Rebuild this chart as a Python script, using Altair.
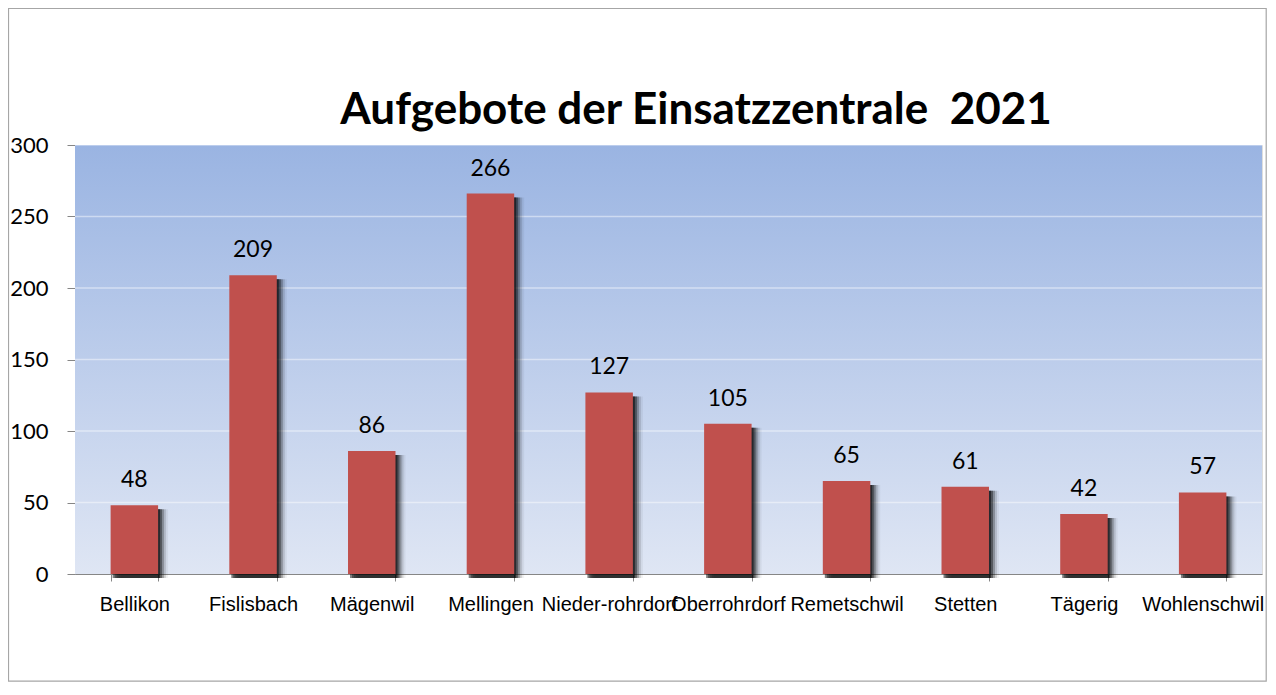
import altair as alt
import pandas as pd

categories = ["Bellikon", "Fislisbach", "Mägenwil", "Mellingen", "Nieder-rohrdorf",
              "Oberrohrdorf", "Remetschwil", "Stetten", "Tägerig", "Wohlenschwil"]
values = [48, 209, 86, 266, 127, 105, 65, 61, 42, 57]
y_ticks = [0, 50, 100, 150, 200, 250, 300]
title_text = "Aufgebote der Einsatzzentrale\u00a0 2021"

W, H = 1187, 429
PAD_L, PAD_T, PAD_R, PAD_B = 67, 137, 5, 108
df = pd.DataFrame({"Gemeinde": categories, "Aufgebote": values})
grid_df = pd.DataFrame({"v": y_ticks[1:]})
one = pd.DataFrame({"a": [0]})

x_enc = alt.X("Gemeinde:N", sort=categories, title=None,
              scale=alt.Scale(paddingInner=0.6, paddingOuter=0.3),
              axis=alt.Axis(labelAngle=0, labelFont="Liberation Sans",
                            labelFontSize=20, labelColor="black", labelBaseline="alphabetic",
                            tickBand="extent", tickSize=7, labelPadding=29, tickColor="#868686",
                            domainColor="#868686", labelOverlap=False, labelFlush=False,
                            grid=False))
y_scale = alt.Scale(domain=[0, 300], nice=False)

bg = alt.Chart(one).mark_rect(
    color=alt.Gradient(gradient="linear", x1=0, x2=0, y1=0, y2=1,
                       stops=[alt.GradientStop(color="#9ab4e2", offset=0),
                              alt.GradientStop(color="#dfe6f4", offset=1)])
).encode(x=alt.value(0), x2=alt.value(W), y=alt.value(0), y2=alt.value(H))

grid = alt.Chart(grid_df).mark_rule(color="white", opacity=0.45, strokeWidth=1.5).encode(
    y=alt.Y("v:Q", scale=y_scale), x=alt.value(0), x2=alt.value(W))

shadows = []
for dx, op in [(2, 0.5), (4, 0.38), (6, 0.24), (8, 0.12), (10, 0.05)]:
    shadows.append(alt.Chart(df).mark_bar(color="black", opacity=op, xOffset=dx, yOffset=4).encode(
        x=x_enc, y=alt.Y("Aufgebote:Q", scale=y_scale)))

bars = alt.Chart(df).mark_bar(color="#c0504d").encode(
    x=x_enc,
    y=alt.Y("Aufgebote:Q", scale=y_scale, title=None,
            axis=alt.Axis(values=y_ticks, labelFont="Lato", labelFontSize=22, labelColor="black",
                          tickSize=8, labelPadding=19, tickColor="#868686", domainColor="#868686",
                          grid=False)))

labels = alt.Chart(df).mark_text(font="Lato", fontSize=23, color="black", baseline="alphabetic",
                                 dy=-18).encode(
    x=x_enc, y=alt.Y("Aufgebote:Q", scale=y_scale), text="Aufgebote:Q")

title = alt.Chart(one).mark_text(font="Lato", fontSize=44, fontWeight="bold", color="black",
                                 baseline="alphabetic", align="center").encode(
    x=alt.value(621), y=alt.value(-21), text=alt.value(title_text))

border = alt.Chart(one).mark_rect(fill=None, stroke="#a6a6a6", strokeWidth=1.2).encode(
    x=alt.value(-PAD_L + 0.5), x2=alt.value(W + PAD_R - 0.8),
    y=alt.value(-PAD_T + 0.5), y2=alt.value(H + PAD_B - 0.8))

chart = alt.layer(bg, grid, *shadows, bars, labels, title, border).properties(
    width=W, height=H,
    autosize=alt.AutoSizeParams(type="none"),
    padding={"left": PAD_L, "top": PAD_T, "right": PAD_R, "bottom": PAD_B},
).configure_view(stroke=None).configure(background="white")

chart.save("out.html", embed_options={"renderer": "svg", "actions": False})
